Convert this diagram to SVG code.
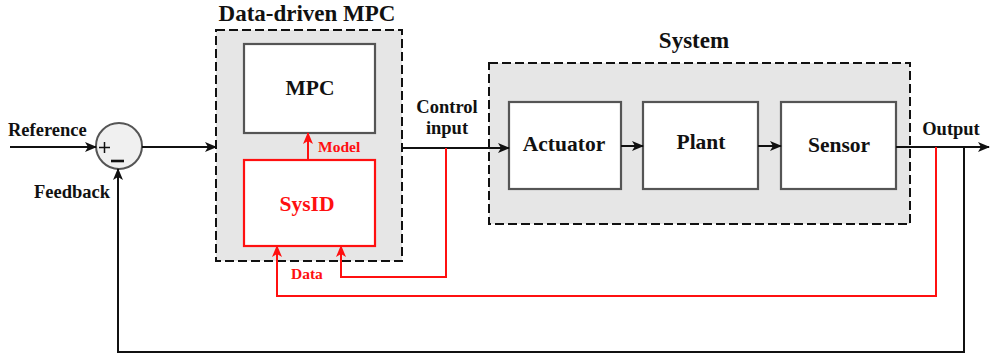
<svg xmlns="http://www.w3.org/2000/svg" width="990" height="360" viewBox="0 0 990 360">
  <style>
    text { font-family: "Liberation Serif", "Times New Roman", serif; font-weight: bold; }
    .title { font-size: 23px; fill: #111; }
    .block { font-size: 21.5px; fill: #111; }
    .lbl { font-size: 18.5px; fill: #111; }
    .rlbl { font-size: 15.5px; fill: #ff1010; }
    .red { fill: #ff1010; }
    .group { fill: #e6e6e6; stroke: #111; stroke-width: 2; stroke-dasharray: 9 4; }
    .box { fill: #ffffff; stroke: #555; stroke-width: 2.2; }
    .rbox { fill: #ffffff; stroke: #ff1010; stroke-width: 2.2; }
    .wire { fill: none; stroke: #111; stroke-width: 2; }
    .rwire { fill: none; stroke: #ff1010; stroke-width: 2; }
  </style>
  <defs>
    <marker id="arrow" viewBox="0 0 12 10" refX="11" refY="5" markerWidth="12" markerHeight="10" markerUnits="userSpaceOnUse" orient="auto">
      <path d="M0,0 L12,5 L0,10 L3,5 Z" fill="#111"/>
    </marker>
    <marker id="rarrow" viewBox="0 0 12 10" refX="11" refY="5" markerWidth="12" markerHeight="10" markerUnits="userSpaceOnUse" orient="auto">
      <path d="M0,0 L12,5 L0,10 L3,5 Z" fill="#ff1010"/>
    </marker>
  </defs>

  <!-- Data-driven MPC container -->
  <g id="ddmpc">
    <rect class="group" x="216" y="30" width="186" height="231"/>
    <text class="title" x="307" y="21" text-anchor="middle">Data-driven MPC</text>
  </g>

  <!-- System container -->
  <g id="system">
    <rect class="group" x="489" y="63" width="421" height="161"/>
    <text class="title" x="694" y="48" text-anchor="middle">System</text>
  </g>

  <!-- Summing junction -->
  <g id="sum">
    <circle cx="119" cy="146" r="23" fill="#f0f0f0" stroke="#555" stroke-width="2"/>
    <path d="M99,147.5 H110 M104.5,142 V153" stroke="#111" stroke-width="1.5" fill="none"/>
    <line x1="111" y1="161" x2="124" y2="161" stroke="#111" stroke-width="2.6"/>
  </g>

  <g id="mpc">
    <rect class="box" x="244" y="44" width="131" height="89"/>
    <text class="block" x="310" y="95" text-anchor="middle">MPC</text>
  </g>

  <g id="sysid">
    <rect class="rbox" x="244" y="160" width="131" height="86"/>
    <text class="block red" x="307" y="211" text-anchor="middle">SysID</text>
  </g>

  <g id="actuator">
    <rect class="box" x="509" y="102" width="112" height="87"/>
    <text class="block" x="564" y="151" text-anchor="middle">Actuator</text>
  </g>

  <g id="plant">
    <rect class="box" x="643" y="102" width="115" height="87"/>
    <text class="block" x="701" y="149" text-anchor="middle">Plant</text>
  </g>

  <g id="sensor">
    <rect class="box" x="781" y="102" width="115" height="87"/>
    <text class="block" x="839" y="152" text-anchor="middle">Sensor</text>
  </g>

  <!-- Connectors -->
  <g id="connectors">
    <path class="wire" d="M10,147 L96,147" marker-end="url(#arrow)"/>
    <path class="wire" d="M142,147 L216,147" marker-end="url(#arrow)"/>
    <path class="wire" d="M402,148 L509,148" marker-end="url(#arrow)"/>
    <path class="wire" d="M621,146 L643,146" marker-end="url(#arrow)"/>
    <path class="wire" d="M758,146 L781,146" marker-end="url(#arrow)"/>
    <path class="wire" d="M896,147 L989,147" marker-end="url(#arrow)"/>
    <path class="wire" d="M964,147 L964,352 L118,352 L118,169" marker-end="url(#arrow)"/>

    <path class="rwire" d="M308,160 L308,133" marker-end="url(#rarrow)"/>
    <path class="rwire" d="M446,148 L446,277 L341,277 L341,246" marker-end="url(#rarrow)"/>
    <path class="rwire" d="M936,147 L936,296 L277,296 L277,246" marker-end="url(#rarrow)"/>
  </g>

  <!-- Signal labels -->
  <g id="labels">
    <text class="lbl" x="8" y="136">Reference</text>
    <text class="lbl" x="34" y="198">Feedback</text>
    <text class="lbl" x="447" y="113" text-anchor="middle">Control</text>
    <text class="lbl" x="447" y="134" text-anchor="middle">input</text>
    <text class="lbl" x="951" y="135" text-anchor="middle">Output</text>
    <text class="rlbl" x="318" y="152">Model</text>
    <text class="rlbl" x="291" y="279">Data</text>
  </g>
</svg>
